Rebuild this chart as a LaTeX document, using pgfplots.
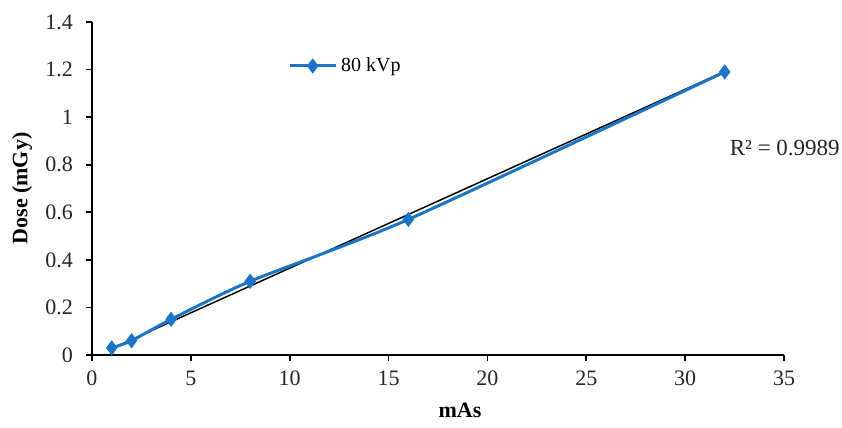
\documentclass[border=0pt]{standalone}
\usepackage{fontspec}
\setmainfont{Liberation Serif}
\usepackage{pgfplots}
\pgfplotsset{compat=1.18}
\definecolor{xlblue}{RGB}{28,117,196}
\begin{document}
\begin{tikzpicture}
\useasboundingbox (-46pt,-36.5pt) rectangle (375pt,177.5pt);
\begin{axis}[
  at={(0,0)}, anchor=origin,
  scale only axis, width=346pt, height=166.5pt,
  xmin=0, xmax=35, ymin=0, ymax=1.4,
  xtick={0,5,...,35}, ytick={0,0.2,...,1.4},
  axis lines*=left,
  axis line style={line width=0.8pt, -},
  tick style={black, line width=0.8pt},
  tick align=outside, major tick length=3pt,
  /pgf/number format/assume math mode=true,
  ticklabel style={font=\fontsize{11}{13}\selectfont, text=black!85},
  yticklabel style={/pgf/number format/fixed, /pgf/number format/precision=1, xshift=-3pt},
  xticklabel style={yshift=-1.5pt},
  xlabel={\textbf{mAs}}, ylabel={\textbf{Dose (mGy)}},
  label style={font=\fontsize{11}{13}\selectfont},
  xlabel style={at={(axis description cs:0.5,0)}, anchor=center, yshift=-27.5pt, xshift=11pt},
  ylabel style={at={(axis description cs:0,0.5)}, anchor=center, rotate=0, yshift=35pt},
  legend style={at={(axis description cs:0.283,0.868)}, anchor=west, draw=none, fill=none,
    font=\fontsize{10}{12}\selectfont, inner sep=0pt},
  legend image code/.code={
    \draw[#1, mark=none] (0pt,0pt) -- (23pt,0pt);
    \draw[#1, only marks] plot coordinates {(11.5pt,0pt)};
  },
  clip=false,
]
\addplot[black, line width=0.75pt, forget plot] coordinates {(1,0.027) (32,1.192)};
\addplot[xlblue, line width=1.5pt, smooth, tension=0.4, mark=diamond*, mark size=2.6pt,
  mark options={fill=xlblue, draw=xlblue}] coordinates {
  (1,0.03) (2,0.06) (4,0.15) (8,0.31) (16,0.57) (32,1.19)};
\addlegendentry{80 kVp}
\node[anchor=west, font=\fontsize{11.5}{13}\selectfont, text=black!85] at (axis cs:31.9,0.87) {R² = 0.9989};
\end{axis}
\end{tikzpicture}
\end{document}
